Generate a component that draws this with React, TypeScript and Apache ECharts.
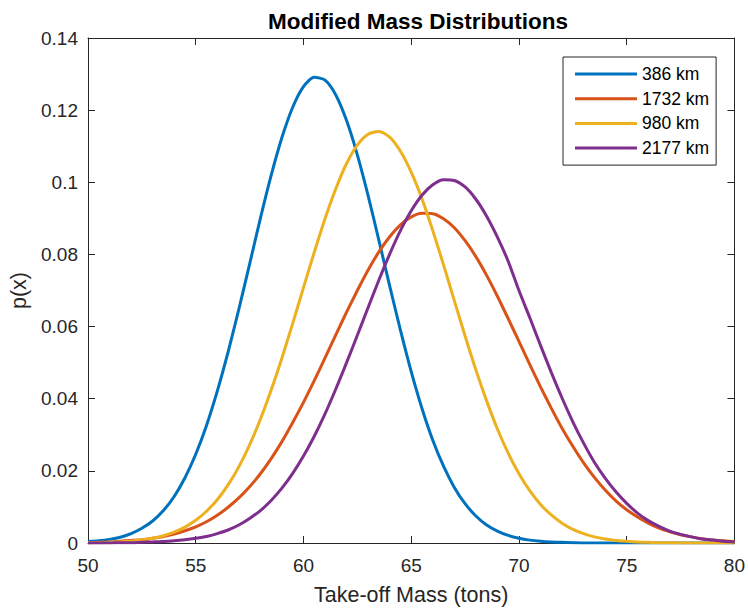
import React, { useEffect, useRef } from "react";
import * as echarts from "echarts";

// Take-off mass grid (tons), every 0.5 t
const mass = [
  50, 50.5, 51, 51.5, 52, 52.5, 53, 53.5, 54, 54.5, 55, 55.5, 56, 56.5, 57, 57.5, 58, 58.5, 59, 59.5,
  60, 60.5, 61, 61.5, 62, 62.5, 63, 63.5, 64, 64.5, 65, 65.5, 66, 66.5, 67, 67.5, 68, 68.5, 69, 69.5,
  70, 70.5, 71, 71.5, 72, 72.5, 73, 73.5, 74, 74.5, 75, 75.5, 76, 76.5, 77, 77.5, 78, 78.5, 79, 79.5, 80,
];

// p(x) values
const km386 = [
  0.0004, 0.0006, 0.001, 0.0016, 0.0026, 0.0041, 0.0061, 0.009, 0.0129, 0.0181, 0.0246, 0.0326, 0.0421, 0.0529, 0.0648, 0.0773, 0.09, 0.1019, 0.1124, 0.1208,
  0.1265, 0.1291, 0.1283, 0.1242, 0.1171, 0.1076, 0.0963, 0.0839, 0.0713, 0.059, 0.0475, 0.0373, 0.0285, 0.0213, 0.0154, 0.0109, 0.0075, 0.005, 0.0033, 0.0021,
  0.0013, 0.0008, 0.0005, 0.0003, 0.0002, 0.0001, 0, 0, 0, 0, 0, 0, 0, 0, 0, 0, 0, 0, 0, 0, 0,
];
const km1732 = [
  0.0001, 0.0002, 0.0003, 0.0005, 0.0007, 0.0009, 0.0013, 0.0018, 0.0025, 0.0034, 0.0045, 0.0059, 0.0077, 0.0099, 0.0125, 0.0156, 0.0192, 0.0234, 0.0281, 0.0334,
  0.039, 0.045, 0.0513, 0.0577, 0.064, 0.07, 0.0757, 0.0807, 0.0849, 0.0882, 0.0904, 0.0914, 0.0913, 0.0899, 0.0874, 0.0838, 0.0794, 0.0742, 0.0684, 0.0622,
  0.0559, 0.0495, 0.0433, 0.0374, 0.0318, 0.0268, 0.0222, 0.0182, 0.0147, 0.0117, 0.0092, 0.0072, 0.0055, 0.0041, 0.0031, 0.0023, 0.0017, 0.0012, 0.0008, 0.0006, 0.0004,
];
const km980 = [
  0.0001, 0.0001, 0.0002, 0.0003, 0.0005, 0.0009, 0.0013, 0.002, 0.003, 0.0044, 0.0063, 0.0088, 0.012, 0.0161, 0.0211, 0.0272, 0.0343, 0.0424, 0.0513, 0.0609,
  0.0708, 0.0806, 0.0899, 0.0982, 0.1052, 0.1103, 0.1133, 0.1141, 0.1125, 0.1086, 0.1028, 0.0954, 0.0866, 0.0771, 0.0672, 0.0574, 0.048, 0.0394, 0.0316, 0.0249,
  0.0192, 0.0145, 0.0107, 0.0078, 0.0055, 0.0038, 0.0026, 0.0017, 0.0011, 0.0007, 0.0005, 0.0003, 0.0002, 0.0001, 0.0001, 0, 0, 0, 0, 0, 0,
];
const km2177 = [
  0, 0, 0, 0.0001, 0.0001, 0.0002, 0.0003, 0.0004, 0.0006, 0.0009, 0.0013, 0.0018, 0.0026, 0.0036, 0.005, 0.0068, 0.009, 0.0118, 0.0152, 0.0193,
  0.0241, 0.0296, 0.0358, 0.0427, 0.05, 0.0576, 0.0653, 0.0729, 0.0801, 0.0866, 0.0921, 0.0964, 0.0993, 0.1007, 0.1005, 0.0987, 0.0953, 0.0906, 0.0848, 0.0781,
  0.07, 0.0625, 0.0548, 0.0473, 0.0402, 0.0336, 0.0277, 0.0224, 0.018, 0.0142, 0.011, 0.0083, 0.0062, 0.0046, 0.0033, 0.0024, 0.0017, 0.0011, 0.0008, 0.0005, 0.0003,
];

const seriesNames = ["386 km", "1732 km", "980 km", "2177 km"];
const seriesColors = ["#0072BD", "#D95319", "#EDB120", "#7E2F8E"];

const xTicks = { min: 50, max: 80, step: 5 };
const yTicks = { min: 0, max: 0.14, step: 0.02 };

const AXIS_COLOR = "#262626";
const FONT = "Liberation Sans";

export default function App() {
  const ref = useRef<HTMLDivElement>(null);
  useEffect(() => {
    document.body.style.margin = "0";
    if (!ref.current) return;
    const chart = echarts.init(ref.current, null, { renderer: "svg" });
    const allVals = [km386, km1732, km980, km2177];

    const baseX = {
      type: "value" as const,
      min: xTicks.min,
      max: xTicks.max,
      interval: xTicks.step,
      splitLine: { show: false },
      axisLine: { show: true, onZero: false, lineStyle: { color: AXIS_COLOR, width: 1 } },
      axisTick: { show: true, inside: true, length: 7, lineStyle: { color: AXIS_COLOR, width: 1 } },
    };
    const baseY = {
      type: "value" as const,
      min: yTicks.min,
      max: yTicks.max,
      interval: yTicks.step,
      splitLine: { show: false },
      axisLine: { show: true, onZero: false, lineStyle: { color: AXIS_COLOR, width: 1 } },
      axisTick: { show: true, inside: true, length: 7, lineStyle: { color: AXIS_COLOR, width: 1 } },
    };

    chart.setOption({
      animation: false,
      backgroundColor: "#ffffff",
      title: {
        text: "Modified Mass Distributions",
        left: 413,
        top: 5,
        textAlign: "center",
        textStyle: { fontFamily: FONT, fontSize: 22.5, fontWeight: "bold", color: "#000000" },
      },
      legend: {
        orient: "vertical",
        left: 563,
        top: 57,
        icon: "rect",
        itemWidth: 62,
        itemHeight: 3,
        itemGap: 4.7,
        padding: [7, 7, 7, 12],
        borderColor: AXIS_COLOR,
        borderWidth: 1,
        backgroundColor: "#ffffff",
        textStyle: { fontFamily: FONT, fontSize: 17.5, color: "#000000", lineHeight: 20 },
        data: seriesNames,
      },
      grid: { left: 88, top: 38, width: 648, height: 512, containLabel: false },
      xAxis: [
        {
          ...baseX,
          position: "bottom",
          name: "Take-off Mass (tons)",
          nameLocation: "middle",
          nameGap: 41,
          nameTextStyle: { fontFamily: FONT, fontSize: 21.5, color: AXIS_COLOR },
          axisLabel: { fontFamily: FONT, fontSize: 19, color: AXIS_COLOR, margin: 13 },
        },
        { ...baseX, position: "top", axisLabel: { show: false } },
      ],
      yAxis: [
        {
          ...baseY,
          position: "left",
          name: "p(x)",
          nameLocation: "middle",
          nameGap: 56,
          nameTextStyle: { fontFamily: FONT, fontSize: 21.5, color: AXIS_COLOR },
          axisLabel: {
            fontFamily: FONT,
            fontSize: 19,
            color: AXIS_COLOR,
            margin: 10,
            formatter: (v: number) => (v === 0 ? "0" : String(parseFloat(v.toFixed(2)))),
          },
        },
        { ...baseY, position: "right", axisLabel: { show: false } },
      ],
      series: seriesNames.map((name, i) => ({
        name,
        type: "line",
        xAxisIndex: 0,
        yAxisIndex: 0,
        data: mass.map((m, j) => [m, allVals[i][j]]),
        smooth: 0.25,
        showSymbol: false,
        symbol: "none",
        lineStyle: { color: seriesColors[i], width: 3 },
        itemStyle: { color: seriesColors[i] },
      })),
    });
    return () => chart.dispose();
  }, []);
  return <div ref={ref} style={{ width: 748, height: 611 }} />;
}
